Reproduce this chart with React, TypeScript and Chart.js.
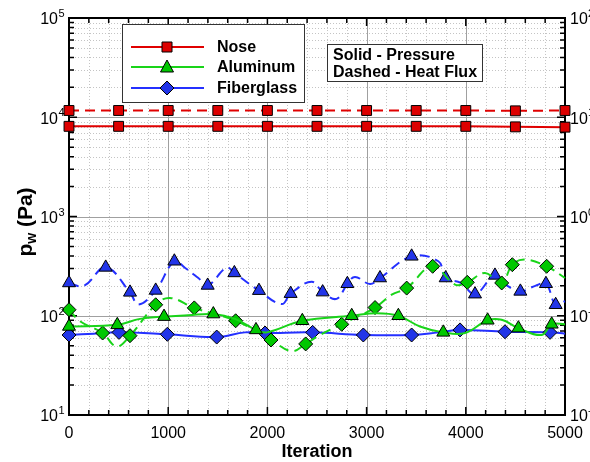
import React, { useEffect, useRef } from "react";
import { Chart, registerables } from "chart.js";
Chart.register(...registerables);

// ---------- data ----------
const xTickLabels = ["0", "1000", "2000", "3000", "4000", "5000"];
const leftExponents = ["1", "2", "3", "4", "5"];
const rightExponents = ["-2", "-1", "0", "1", "2"];

const noseIter = [0, 500, 1000, 1500, 2000, 2500, 3000, 3500, 4000, 4500, 5000];
const nosePressure = [8100, 8100, 8100, 8100, 8100, 8100, 8100, 8100, 8100, 8000, 7950];
const noseHeatFlux = [11.7, 11.7, 11.7, 11.7, 11.7, 11.7, 11.7, 11.7, 11.7, 11.6, 11.7];

const alPressIter = [0, 487, 716, 958, 1200, 1455, 1673, 1885, 1993, 2352, 2850, 3102, 3320, 3538, 3773, 3992, 4220, 4362, 4530, 4765, 4866, 5000];
const alPressure = [78, 81, 93, 98, 101, 104, 93, 72, 68, 89, 100, 106, 100, 78, 68, 67, 90, 91, 75, 64, 82, 82];
const alPressMarks = [1, 1, 0, 1, 0, 1, 0, 1, 0, 1, 1, 0, 1, 0, 1, 0, 1, 0, 1, 0, 1, 0];

const alFluxIter = [0, 111, 339, 480, 615, 874, 1018, 1263, 1680, 2036, 2245, 2386, 2530, 2749, 3085, 3253, 3404, 3666, 3891, 4015, 4194, 4362, 4469, 4597, 4815, 5000];
const alHeatFlux = [0.115, 0.088, 0.067, 0.049, 0.063, 0.129, 0.151, 0.12, 0.089, 0.057, 0.044, 0.052, 0.064, 0.082, 0.121, 0.163, 0.19, 0.315, 0.206, 0.217, 0.27, 0.214, 0.327, 0.368, 0.315, 0.24];
const alFluxMarks = [1, 0, 1, 0, 1, 1, 0, 1, 1, 1, 0, 1, 0, 1, 1, 0, 1, 1, 0, 1, 0, 1, 1, 0, 1, 0];

const fgPressIter = [0, 250, 504, 991, 1489, 1774, 1976, 2456, 2967, 3454, 3723, 3942, 4395, 4849, 5000];
const fgPressure = [64, 66, 68, 65, 61, 68, 67, 68, 64, 64, 68, 72, 69, 68, 66];
const fgPressMarks = [1, 0, 1, 1, 1, 0, 1, 1, 1, 1, 0, 1, 1, 1, 0];

const fgFluxIter = [0, 150, 370, 615, 700, 874, 1062, 1171, 1304, 1398, 1589, 1667, 1915, 2144, 2234, 2446, 2557, 2698, 2806, 2883, 3034, 3135, 3454, 3723, 3797, 3950, 4093, 4294, 4420, 4550, 4700, 4808, 4906, 5000];
const fgHeatFlux = [0.214, 0.2, 0.307, 0.172, 0.13, 0.18, 0.354, 0.303, 0.24, 0.202, 0.305, 0.27, 0.179, 0.131, 0.167, 0.22, 0.173, 0.148, 0.21, 0.246, 0.209, 0.24, 0.397, 0.354, 0.24, 0.215, 0.165, 0.255, 0.2, 0.176, 0.2, 0.21, 0.129, 0.14];
const fgFluxMarks = [1, 0, 1, 1, 0, 1, 1, 0, 0, 1, 0, 1, 1, 0, 1, 0, 1, 0, 1, 0, 0, 1, 1, 0, 1, 0, 1, 1, 0, 1, 0, 1, 1, 0];

const legendNames = ["Nose", "Aluminum", "Fiberglass"];
const noteLines = ["Solid - Pressure", "Dashed - Heat Flux"];

// ---------- styles ----------
const RED = "#e00000", RED_F = "#dd0000";
const GREEN = "#19d419", GREEN_F = "#00c800";
const BLUE = "#2430ff", BLUE_F = "#2235e8";
const FONT = '"Liberation Sans", Arial, sans-serif';

function pts(xs: number[], ys: number[]) {
  return xs.map((x, i) => ({ x, y: ys[i] }));
}

function series(xs: number[], ys: number[], marks: number[] | null, axis: string, color: string, fill: string, style: string, r: number, dashed: boolean, tension: number) {
  return {
    data: pts(xs, ys),
    yAxisID: axis,
    borderColor: color,
    borderWidth: 2,
    borderDash: dashed ? [10, 6] : [],
    pointStyle: style,
    pointRadius: xs.map((_, i) => (marks ? (marks[i] ? r : 0) : r)),
    pointHoverRadius: 0,
    pointBackgroundColor: fill,
    pointBorderColor: "#000",
    pointBorderWidth: 1,
    tension,
    fill: false,
    clip: false as any,
  };
}

const decorPlugin = {
  id: "decor",
  beforeDatasetsDraw(chart: any) {
    const { ctx, chartArea: ca } = chart;
    const xs = chart.scales.x, ys = chart.scales.y;
    ctx.save();
    // minor grid
    ctx.strokeStyle = "#c4c4c4";
    ctx.lineWidth = 1;
    ctx.setLineDash([1, 2]);
    for (let v = 200; v < 5000; v += 200) {
      if (v % 1000 === 0) continue;
      const px = Math.round(xs.getPixelForValue(v)) + 0.5;
      ctx.beginPath(); ctx.moveTo(px, ca.top); ctx.lineTo(px, ca.bottom); ctx.stroke();
    }
    for (let d = 1; d <= 4; d++) {
      for (let m = 2; m <= 9; m++) {
        const py = Math.round(ys.getPixelForValue(m * Math.pow(10, d))) + 0.5;
        ctx.beginPath(); ctx.moveTo(ca.left, py); ctx.lineTo(ca.right, py); ctx.stroke();
      }
    }
    // major grid
    ctx.setLineDash([]);
    ctx.strokeStyle = "#a0a0a0";
    for (let v = 1000; v < 5000; v += 1000) {
      const px = Math.round(xs.getPixelForValue(v)) + 0.5;
      ctx.beginPath(); ctx.moveTo(px, ca.top); ctx.lineTo(px, ca.bottom); ctx.stroke();
    }
    for (let d = 2; d <= 4; d++) {
      const py = Math.round(ys.getPixelForValue(Math.pow(10, d))) + 0.5;
      ctx.beginPath(); ctx.moveTo(ca.left, py); ctx.lineTo(ca.right, py); ctx.stroke();
    }
    // ticks
    ctx.strokeStyle = "#000";
    ctx.lineWidth = 1.5;
    for (let v = 0; v <= 5000; v += 200) {
      const px = xs.getPixelForValue(v);
      const len = v % 1000 === 0 ? 8 : 5;
      ctx.beginPath();
      ctx.moveTo(px, ca.bottom); ctx.lineTo(px, ca.bottom - len);
      ctx.moveTo(px, ca.top); ctx.lineTo(px, ca.top + len);
      ctx.stroke();
    }
    for (let d = 1; d <= 5; d++) {
      for (let m = 1; m <= 9; m++) {
        if (d === 5 && m > 1) break;
        const py = ys.getPixelForValue(m * Math.pow(10, d));
        const len = m === 1 ? 8 : 5;
        ctx.beginPath();
        ctx.moveTo(ca.left, py); ctx.lineTo(ca.left + len, py);
        ctx.moveTo(ca.right, py); ctx.lineTo(ca.right - len, py);
        ctx.stroke();
      }
    }
    // frame
    ctx.lineWidth = 2;
    ctx.strokeRect(ca.left, ca.top, ca.right - ca.left, ca.bottom - ca.top);
    ctx.restore();
  },
  afterDatasetsDraw(chart: any) {
    const { ctx, chartArea: ca } = chart;
    const xs = chart.scales.x, ys = chart.scales.y, y1 = chart.scales.y1;
    ctx.save();
    ctx.fillStyle = "#000";
    // x tick labels
    ctx.font = `16px ${FONT}`;
    ctx.textAlign = "center";
    ctx.textBaseline = "middle";
    xTickLabels.forEach((t) => {
      ctx.fillText(t, xs.getPixelForValue(Number(t)), 434);
    });
    // x title
    ctx.font = `bold 18px ${FONT}`;
    ctx.fillText("Iteration", (ca.left + ca.right) / 2, 452);
    // left y labels
    leftExponents.forEach((e) => {
      const py = ys.getPixelForValue(Math.pow(10, Number(e)));
      ctx.font = `16px ${FONT}`;
      ctx.textAlign = "right";
      ctx.textBaseline = "middle";
      ctx.fillText("10", 58, py + 2);
      ctx.font = `11px ${FONT}`;
      ctx.textAlign = "left";
      ctx.fillText(e, 58.5, py - 4);
    });
    // right y labels
    rightExponents.forEach((e) => {
      const py = y1.getPixelForValue(Math.pow(10, Number(e)));
      ctx.font = `16px ${FONT}`;
      ctx.textAlign = "left";
      ctx.textBaseline = "middle";
      ctx.fillText("10", 570, py + 2);
      ctx.font = `11px ${FONT}`;
      ctx.fillText(e, 588, py - 4);
    });
    // y title
    ctx.save();
    ctx.translate(25, 222);
    ctx.rotate(-Math.PI / 2);
    ctx.textBaseline = "alphabetic";
    ctx.textAlign = "left";
    const big = `bold 21px ${FONT}`, small = `bold 14px ${FONT}`;
    ctx.font = big; const wp = ctx.measureText("p").width;
    ctx.font = small; const ww = ctx.measureText("w").width;
    ctx.font = big; const wr = ctx.measureText(" (Pa)").width;
    let sx = -(wp + ww + wr) / 2;
    ctx.font = big; ctx.fillText("p", sx, 7); sx += wp;
    ctx.font = small; ctx.fillText("w", sx, 11); sx += ww;
    ctx.font = big; ctx.fillText(" (Pa)", sx, 7);
    ctx.restore();

    // legend box
    ctx.fillStyle = "#fff";
    ctx.fillRect(122.5, 24.5, 182, 78);
    ctx.strokeStyle = "#333";
    ctx.lineWidth = 1;
    ctx.strokeRect(122.5, 24.5, 182, 78);
    const lc = [RED, GREEN, BLUE], lf = [RED_F, GREEN_F, BLUE_F];
    const ly = [47, 67, 88];
    legendNames.forEach((name, i) => {
      ctx.strokeStyle = lc[i];
      ctx.lineWidth = 2;
      ctx.beginPath(); ctx.moveTo(131, ly[i]); ctx.lineTo(204, ly[i]); ctx.stroke();
      ctx.fillStyle = lf[i];
      ctx.strokeStyle = "#000";
      ctx.lineWidth = 1;
      const cx = 167, cy = ly[i];
      ctx.beginPath();
      if (i === 0) ctx.rect(cx - 5, cy - 5, 10, 10);
      else if (i === 1) { ctx.moveTo(cx, cy - 7); ctx.lineTo(cx + 6.5, cy + 5); ctx.lineTo(cx - 6.5, cy + 5); ctx.closePath(); }
      else { ctx.moveTo(cx, cy - 7); ctx.lineTo(cx + 7, cy); ctx.lineTo(cx, cy + 7); ctx.lineTo(cx - 7, cy); ctx.closePath(); }
      ctx.fill(); ctx.stroke();
      ctx.fillStyle = "#000";
      ctx.font = `bold 16px ${FONT}`;
      ctx.textAlign = "left";
      ctx.textBaseline = "middle";
      ctx.fillText(name, 217, ly[i] + 1);
    });
    // note box
    ctx.fillStyle = "#fff";
    ctx.fillRect(327.5, 44.5, 155, 37);
    ctx.strokeStyle = "#333";
    ctx.strokeRect(327.5, 44.5, 155, 37);
    ctx.fillStyle = "#000";
    ctx.font = `bold 16px ${FONT}`;
    noteLines.forEach((t, i) => ctx.fillText(t, 333, 56 + i * 17));
    ctx.restore();
  },
};

export default function App() {
  const ref = useRef<HTMLCanvasElement>(null);
  useEffect(() => {
    if (!ref.current) return;
    const chart = new Chart(ref.current, {
      type: "line",
      data: {
        datasets: [
          series(noseIter, nosePressure, null, "y", RED, RED_F, "rect", 7, false, 0),
          series(noseIter, noseHeatFlux, null, "y1", RED, RED_F, "rect", 7, true, 0),
          series(alPressIter, alPressure, alPressMarks, "y", GREEN, GREEN_F, "triangle", 7.5, false, 0.4),
          series(alFluxIter, alHeatFlux, alFluxMarks, "y1", GREEN, GREEN_F, "rectRot", 7, true, 0.4),
          series(fgPressIter, fgPressure, fgPressMarks, "y", BLUE, BLUE_F, "rectRot", 7, false, 0.4),
          series(fgFluxIter, fgHeatFlux, fgFluxMarks, "y1", BLUE, BLUE_F, "triangle", 7.5, true, 0.4),
        ] as any,
      },
      options: {
        animation: false,
        responsive: false,
        devicePixelRatio: 1,
        layout: { padding: { top: 18, left: 0, right: 0, bottom: 0 } },
        plugins: { legend: { display: false }, tooltip: { enabled: false } },
        events: [],
        scales: {
          x: {
            type: "linear", min: 0, max: 5000,
            ticks: { display: false }, grid: { display: false }, border: { display: false },
            afterFit: (s: any) => { s.height = 47; },
          },
          y: {
            type: "logarithmic", position: "left", min: 10, max: 100000,
            ticks: { display: false }, grid: { display: false }, border: { display: false },
            afterFit: (s: any) => { s.width = 69; },
          },
          y1: {
            type: "logarithmic", position: "right", min: 0.01, max: 100,
            ticks: { display: false }, grid: { display: false }, border: { display: false },
            afterFit: (s: any) => { s.width = 25; },
          },
        },
      } as any,
      plugins: [decorPlugin],
    });
    return () => chart.destroy();
  }, []);
  return (
    <div style={{ position: "fixed", left: 0, top: 0, width: 590, height: 462, overflow: "hidden", background: "#fff" }}>
      <canvas ref={ref} width={590} height={462} style={{ width: 590, height: 462, display: "block" }} />
    </div>
  );
}
